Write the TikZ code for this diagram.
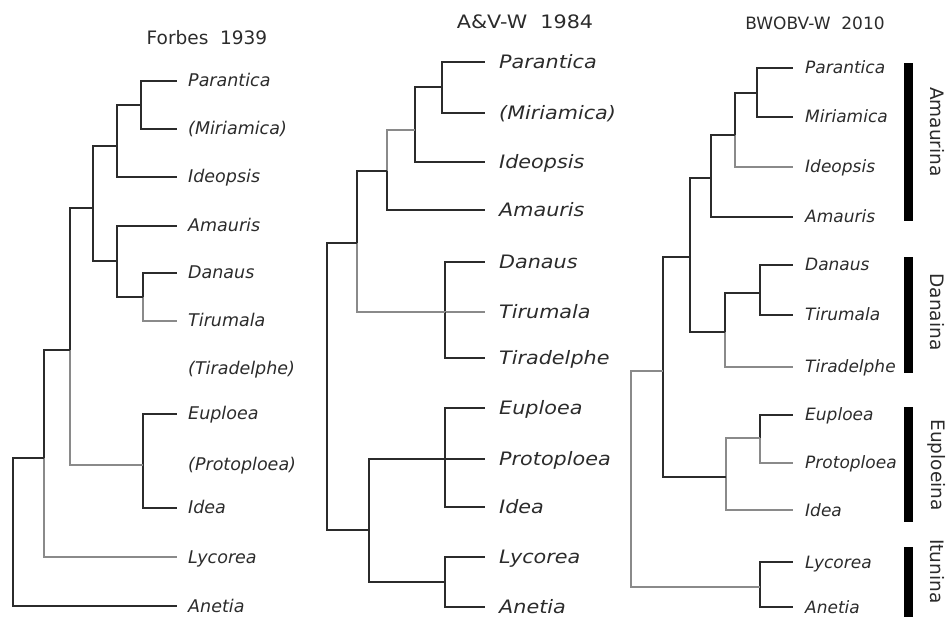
\documentclass[tikz,border=0pt]{standalone}
\usepackage{fontspec}
\setmainfont{DejaVu Sans}
\newfontfamily\widefont{DejaVu Sans}[FakeStretch=1.12]
\definecolor{dk}{HTML}{2B2B2B}
\definecolor{lg}{HTML}{8A8A8A}
\begin{document}
\begin{tikzpicture}[x=1pt,y=-1pt,
  br/.style={line width=1.3pt, draw=dk},
  lb/.style={line width=1.3pt, draw=lg},
  lfA/.style={anchor=west, inner sep=0pt, text height=12pt, text depth=0pt, font=\fontsize{17.5}{20}\selectfont\itshape, text=dk},
  lfB/.style={anchor=west, inner sep=0pt, text height=13pt, text depth=0pt, font=\widefont\fontsize{18.5}{21}\selectfont\itshape, text=dk},
  lfC/.style={anchor=west, inner sep=0pt, text height=12pt, text depth=0pt, font=\fontsize{17}{20}\selectfont\itshape, text=dk},
  ttl/.style={inner sep=0pt, text=dk},
  bar/.style={fill=black, draw=none, minimum width=9pt, inner sep=0pt, anchor=north},
  clade/.style={rotate=-90, inner sep=0pt, font=\fontsize{18.5}{20}\selectfont, text=dk}
]
\useasboundingbox (0,0) rectangle (951,617);

%================ Panel 1: Forbes 1939
\node[ttl, font=\fontsize{18.5}{20}\selectfont] (t1) at (207,38) {Forbes\ \ 1939};
\foreach \n/\y/\t in {Par/81/Parantica, Mir/129/(Miriamica), Ide/177/Ideopsis, Ama/226/Amauris, Dan/273/Danaus, Tir/321/Tirumala, Tira/369/(Tiradelphe), Eup/414/Euploea, Pro/465/(Protoploea), Idea/508/Idea, Lyc/557/Lycorea, Ane/606/Anetia}{
  \node[lfA] (A\n) at (188,\y) {\t};
  \coordinate (A\n t) at (177,\y);
}
\coordinate (a1) at (141,105);
\coordinate (a2) at (117,146);
\coordinate (a3) at (143,297);
\coordinate (a4) at (117,261);
\coordinate (a5) at (93,208);
\coordinate (a6) at (143,465);
\coordinate (a7) at (70,350);
\coordinate (a8) at (44,458);
\coordinate (a9) at (13,530);
\draw[br] (a1) |- (APart);
\draw[br] (a1) |- (AMirt);
\draw[br] (a2) |- (a1);
\draw[br] (a2) |- (AIdet);
\draw[br] (a3) |- (ADant);
\draw[lb] (a3) |- (ATirt);
\draw[br] (a4) |- (AAmat);
\draw[br] (a4) |- (a3);
\draw[br] (a5) |- (a2);
\draw[br] (a5) |- (a4);
\draw[br] (a6) |- (AEupt);
\draw[br] (a6) |- (AIdeat);
\draw[br] (a7) |- (a5);
\draw[lb] (a7) |- (a6);
\draw[br] (a8) |- (a7);
\draw[lb] (a8) |- (ALyct);
\draw[br] (a9) |- (a8);
\draw[br] (a9) |- (AAnet);

%================ Panel 2: A&V-W 1984
\node[ttl, font=\widefont\fontsize{18.5}{21}\selectfont] (t2) at (525,22) {A\&V-W\ \ 1984};
\foreach \n/\y/\t in {Par/62/Parantica, Mir/113/(Miriamica), Ide/162/Ideopsis, Ama/210/Amauris, Dan/262/Danaus, Tir/312/Tirumala, Tira/358/Tiradelphe, Eup/408/Euploea, Pro/459/Protoploea, Idea/507/Idea, Lyc/557/Lycorea, Ane/607/Anetia}{
  \node[lfB] (B\n) at (499,\y) {\t};
  \coordinate (B\n t) at (485,\y);
}
\coordinate (b1) at (442,87);
\coordinate (b2) at (415,130);
\coordinate (b3) at (387,171);
\coordinate (b4) at (445,312);
\coordinate (b5) at (357,243);
\coordinate (b6) at (445,459);
\coordinate (b7) at (445,582);
\coordinate (b8) at (369,530);
\coordinate (b9) at (327,400);
\draw[br] (b1) |- (BPart);
\draw[br] (b1) |- (BMirt);
\draw[br] (b2) |- (b1);
\draw[br] (b2) |- (BIdet);
\draw[lb] (b3) |- (b2);
\draw[br] (b3) |- (BAmat);
\draw[br] (b4) |- (BDant);
\draw[lb] (b4) |- (BTirt);
\draw[br] (b4) |- (BTirat);
\draw[br] (b5) |- (b3);
\draw[lb] (b5) |- (b4);
\draw[br] (b6) |- (BEupt);
\draw[br] (b6) |- (BProt);
\draw[br] (b6) |- (BIdeat);
\draw[br] (b7) |- (BLyct);
\draw[br] (b7) |- (BAnet);
\draw[br] (b8) |- (b6);
\draw[br] (b8) |- (b7);
\draw[br] (b9) |- (b5);
\draw[br] (b9) |- (b8);

%================ Panel 3: BWOBV-W 2010
\node[ttl, font=\fontsize{17}{20}\selectfont] (t3) at (815,23) {BWOBV-W\ \ 2010};
\foreach \n/\y/\t in {Par/68/Parantica, Mir/117/Miriamica, Ide/167/Ideopsis, Ama/217/Amauris, Dan/265/Danaus, Tir/315/Tirumala, Tira/367/Tiradelphe, Eup/415/Euploea, Pro/463/Protoploea, Idea/510/Idea, Lyc/562/Lycorea, Ane/607/Anetia}{
  \node[lfC] (C\n) at (805,\y) {\t};
  \coordinate (C\n t) at (793,\y);
}
\coordinate (c1) at (757,93);
\coordinate (c2) at (735,135);
\coordinate (c3) at (711,178);
\coordinate (c4) at (760,293);
\coordinate (c5) at (725,332);
\coordinate (c6) at (690,257);
\coordinate (c7) at (760,438);
\coordinate (c8) at (726,477);
\coordinate (c9) at (663,371);
\coordinate (c10) at (760,587);
\coordinate (c11) at (631,480);
\draw[br] (c1) |- (CPart);
\draw[br] (c1) |- (CMirt);
\draw[br] (c2) |- (c1);
\draw[lb] (c2) |- (CIdet);
\draw[br] (c3) |- (c2);
\draw[br] (c3) |- (CAmat);
\draw[br] (c4) |- (CDant);
\draw[br] (c4) |- (CTirt);
\draw[br] (c5) |- (c4);
\draw[lb] (c5) |- (CTirat);
\draw[br] (c6) |- (c3);
\draw[br] (c6) |- (c5);
\draw[br] (c7) |- (CEupt);
\draw[lb] (c7) |- (CProt);
\draw[lb] (c8) |- (c7);
\draw[lb] (c8) |- (CIdeat);
\draw[br] (c9) |- (c6);
\draw[br] (c9) |- (c8);
\draw[br] (c10) |- (CLyct);
\draw[br] (c10) |- (CAnet);
\draw[lb] (c11) |- (c9);
\draw[lb] (c11) |- (c10);

% clade bars
\node[bar, minimum height=158pt] (barAm) at (908.5,63) {};
\node[bar, minimum height=116pt] (barDa) at (908.5,257) {};
\node[bar, minimum height=115pt] (barEu) at (908.5,407) {};
\node[bar, minimum height=70pt] (barIt) at (908.5,547) {};
\node[clade] (lAm) at (937,132) {Amaurina};
\node[clade] (lDa) at (937,312) {Danaina};
\node[clade] (lEu) at (937,465) {Euploeina};
\node[clade, anchor=west] (lIt) at (937,539) {Itunina};
\end{tikzpicture}
\end{document}
